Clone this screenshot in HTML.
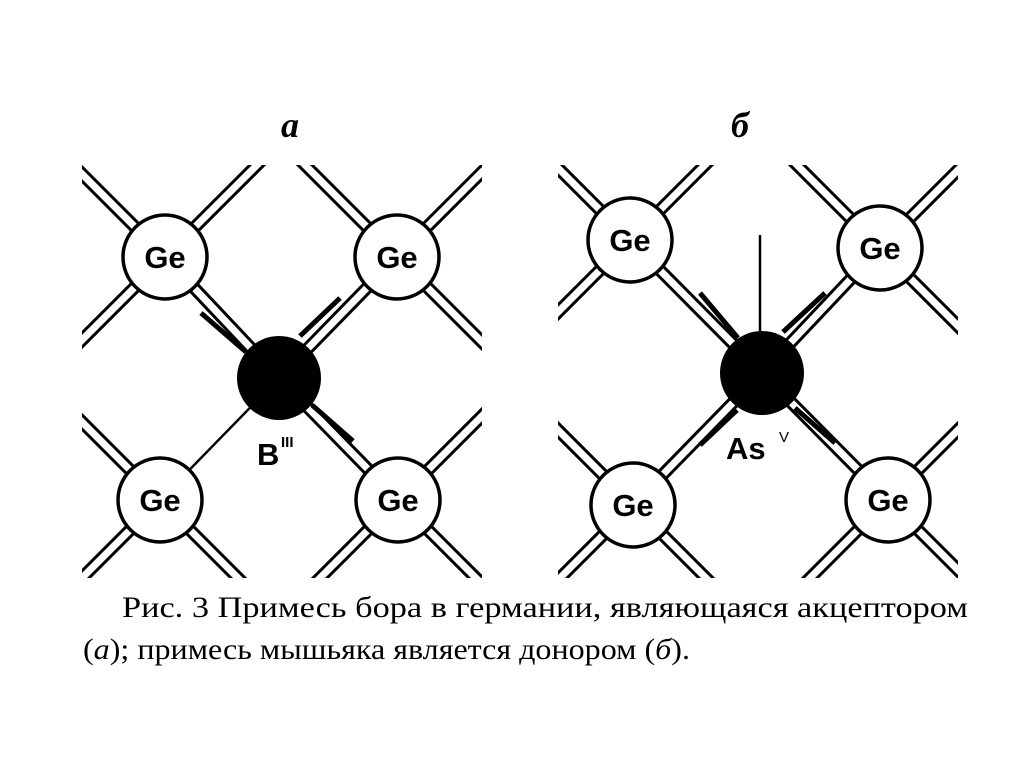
<!DOCTYPE html>
<html><head><meta charset="utf-8"><style>
html,body{margin:0;padding:0;background:#fff;}
svg{display:block;}
.ge{font-family:"Liberation Sans",sans-serif;font-weight:bold;font-size:31px;}
.cap{font-family:"Liberation Serif","DejaVu Serif",serif;font-size:30px;}
</style></head><body>
<svg width="1024" height="767" viewBox="0 0 1024 767" xmlns="http://www.w3.org/2000/svg">
<defs>
<clipPath id="ca"><rect x="82" y="165" width="400" height="413"/></clipPath>
<clipPath id="cb"><rect x="558" y="165" width="400" height="413"/></clipPath>
</defs>
<rect width="1024" height="767" fill="#fff"/>
<text x="290" y="137" font-family="Liberation Serif,serif" font-weight="bold" font-style="italic" font-size="36" text-anchor="middle">а</text>
<text x="740" y="137" font-family="Liberation Serif,serif" font-weight="bold" font-style="italic" font-size="36" text-anchor="middle">б</text>

<!-- Panel a -->
<g clip-path="url(#ca)">
 <g stroke="#000" stroke-width="13" fill="none">
  <line x1="165" y1="257" x2="-35" y2="57"/><line x1="165" y1="257" x2="365" y2="57"/><line x1="165" y1="257" x2="-35" y2="457"/><line x1="165" y1="257" x2="279" y2="378"/>
  <line x1="397" y1="257" x2="197" y2="57"/><line x1="397" y1="257" x2="597" y2="57"/><line x1="397" y1="257" x2="597" y2="457"/><line x1="397" y1="257" x2="279" y2="378"/>
  <line x1="160" y1="500" x2="-40" y2="300"/><line x1="160" y1="500" x2="-40" y2="700"/><line x1="160" y1="500" x2="360" y2="700"/>
  <line x1="398" y1="500" x2="598" y2="300"/><line x1="398" y1="500" x2="598" y2="700"/><line x1="398" y1="500" x2="198" y2="700"/><line x1="398" y1="500" x2="279" y2="378"/>
 </g>
 <g stroke="#fff" stroke-width="7" fill="none">
  <line x1="165" y1="257" x2="-35" y2="57"/><line x1="165" y1="257" x2="365" y2="57"/><line x1="165" y1="257" x2="-35" y2="457"/><line x1="165" y1="257" x2="279" y2="378"/>
  <line x1="397" y1="257" x2="197" y2="57"/><line x1="397" y1="257" x2="597" y2="57"/><line x1="397" y1="257" x2="597" y2="457"/><line x1="397" y1="257" x2="279" y2="378"/>
  <line x1="160" y1="500" x2="-40" y2="300"/><line x1="160" y1="500" x2="-40" y2="700"/><line x1="160" y1="500" x2="360" y2="700"/>
  <line x1="398" y1="500" x2="598" y2="300"/><line x1="398" y1="500" x2="598" y2="700"/><line x1="398" y1="500" x2="198" y2="700"/><line x1="398" y1="500" x2="279" y2="378"/>
 </g>
 <line x1="160" y1="500" x2="279" y2="378" stroke="#000" stroke-width="2.5"/>
 <g stroke="#000" stroke-width="5">
  <line x1="201" y1="313" x2="246" y2="352"/>
  <line x1="340" y1="298" x2="300" y2="336"/>
  <line x1="312" y1="405" x2="353" y2="441"/>
 </g>
 <g fill="#fff" stroke="#000" stroke-width="3.5">
  <circle cx="165" cy="257" r="42"/><circle cx="397" cy="257" r="42"/><circle cx="160" cy="500" r="42"/><circle cx="398" cy="500" r="42"/>
 </g>
 <circle cx="279" cy="378" r="42" fill="#000"/>
 <g class="ge" text-anchor="middle">
  <text x="165" y="268">Ge</text><text x="397" y="268">Ge</text><text x="160" y="511">Ge</text><text x="398" y="511">Ge</text>
 </g>
 <text x="257" y="465" class="ge">B</text>
 <text x="281" y="447" font-family="Liberation Sans,sans-serif" font-weight="bold" font-size="15">III</text>
</g>

<!-- Panel b -->
<g clip-path="url(#cb)">
 <g stroke="#000" stroke-width="13" fill="none">
  <line x1="630" y1="240" x2="430" y2="40"/><line x1="630" y1="240" x2="830" y2="40"/><line x1="630" y1="240" x2="430" y2="440"/><line x1="630" y1="240" x2="762" y2="373"/>
  <line x1="880" y1="248" x2="680" y2="48"/><line x1="880" y1="248" x2="1080" y2="48"/><line x1="880" y1="248" x2="1080" y2="448"/><line x1="880" y1="248" x2="762" y2="373"/>
  <line x1="633" y1="505" x2="433" y2="305"/><line x1="633" y1="505" x2="433" y2="705"/><line x1="633" y1="505" x2="833" y2="705"/><line x1="633" y1="505" x2="762" y2="373"/>
  <line x1="888" y1="500" x2="1088" y2="300"/><line x1="888" y1="500" x2="1088" y2="700"/><line x1="888" y1="500" x2="688" y2="700"/><line x1="888" y1="500" x2="762" y2="373"/>
 </g>
 <g stroke="#fff" stroke-width="7" fill="none">
  <line x1="630" y1="240" x2="430" y2="40"/><line x1="630" y1="240" x2="830" y2="40"/><line x1="630" y1="240" x2="430" y2="440"/><line x1="630" y1="240" x2="762" y2="373"/>
  <line x1="880" y1="248" x2="680" y2="48"/><line x1="880" y1="248" x2="1080" y2="48"/><line x1="880" y1="248" x2="1080" y2="448"/><line x1="880" y1="248" x2="762" y2="373"/>
  <line x1="633" y1="505" x2="433" y2="305"/><line x1="633" y1="505" x2="433" y2="705"/><line x1="633" y1="505" x2="833" y2="705"/><line x1="633" y1="505" x2="762" y2="373"/>
  <line x1="888" y1="500" x2="1088" y2="300"/><line x1="888" y1="500" x2="1088" y2="700"/><line x1="888" y1="500" x2="688" y2="700"/><line x1="888" y1="500" x2="762" y2="373"/>
 </g>
 <g stroke="#000" stroke-width="5">
  <line x1="700" y1="293" x2="738" y2="338"/>
  <line x1="825" y1="293" x2="783" y2="332"/>
  <line x1="700" y1="445" x2="737" y2="410"/>
  <line x1="795" y1="408" x2="835" y2="443"/>
 </g>
 <line x1="760" y1="235" x2="760" y2="340" stroke="#000" stroke-width="2.5"/>
 <g fill="#fff" stroke="#000" stroke-width="3.5">
  <circle cx="630" cy="240" r="42"/><circle cx="880" cy="248" r="42"/><circle cx="633" cy="505" r="42"/><circle cx="888" cy="500" r="42"/>
 </g>
 <circle cx="762" cy="373" r="42" fill="#000"/>
 <g class="ge" text-anchor="middle">
  <text x="630" y="251">Ge</text><text x="880" y="259">Ge</text><text x="633" y="516">Ge</text><text x="888" y="511">Ge</text>
 </g>
 <text x="726" y="459" class="ge">As</text>
 <text x="779" y="442" font-family="Liberation Sans,sans-serif" font-size="15">V</text>
</g>

<text x="122" y="617" class="cap" textLength="846" lengthAdjust="spacingAndGlyphs">Рис. 3  Примесь бора в германии, являющаяся акцептором</text>
<text x="83" y="659" class="cap" textLength="607" lengthAdjust="spacingAndGlyphs">(<tspan font-style="italic">а</tspan>); примесь мышьяка является донором (<tspan font-style="italic">б</tspan>).</text>
</svg>
</body></html>
